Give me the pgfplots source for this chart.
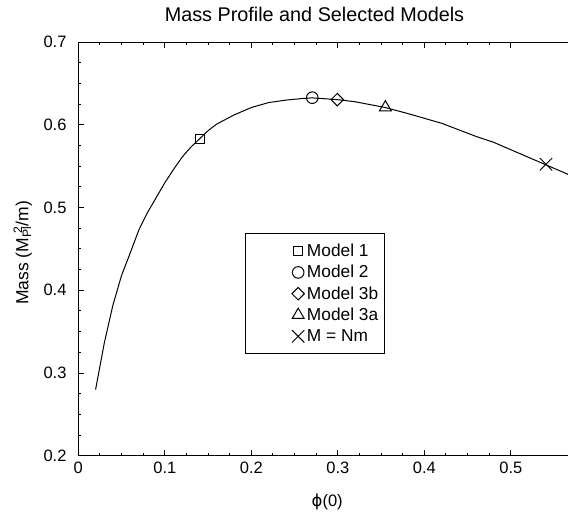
\documentclass[border=0pt]{standalone}
\usepackage{fontspec}
\setmainfont{Liberation Sans}
\newfontfamily\dejavu{DejaVu Sans}
\usepackage{pgfplots}
\pgfplotsset{compat=1.18}
\begin{document}
\begin{tikzpicture}
\useasboundingbox (0,0) rectangle (568pt,512pt);
\node[anchor=base, font=\fontsize{19.8}{24}\selectfont] at (314.5pt,490.3pt) {Mass Profile and Selected Models};
\begin{axis}[
  at={(78.3pt,56.3pt)}, anchor=south west,
  scale only axis, width=497.8pt, height=413.5pt,
  xmin=0, xmax=0.5755, ymin=0.2, ymax=0.7,
  xtick={0,0.1,0.2,0.3,0.4,0.5}, ytick={0.2,0.3,0.4,0.5,0.6,0.7},
  minor tick num=3,
  tick align=inside,
  major tick length=6pt, minor tick length=3pt,
  axis line style={line width=1.2pt},
  every tick/.style={black, line width=1pt},
  /pgf/number format/assume math mode=true,
  /pgf/number format/.cd, fixed, precision=1, /pgfplots/.cd,
  tick label style={font=\fontsize{16.5}{20}\selectfont},
  xticklabel style={yshift=-3.1pt},
  yticklabel style={xshift=-8.3pt},
  every axis x label/.style={at={(axis description cs:0.5,-0.124)}, anchor=base, font=\fontsize{16.5}{20}\selectfont},
  every axis y label/.style={at={(axis description cs:-0.1004,0.4903)}, anchor=base, rotate=90, font=\fontsize{17.5}{21}\selectfont},
  xlabel={{\dejavu ϕ}(0)},
  ylabel={Mass (M\textsubscript{Pl}\llap{\textsuperscript{2}}/m)},
  legend cell align=left,
  legend style={at={(axis cs:0.1927,0.4693)}, anchor=north west, draw=black, line width=1pt,
    inner xsep=6pt, inner ysep=7pt, row sep=0pt, column sep=0pt,
    font=\fontsize{17.3}{21}\selectfont,
    nodes={inner sep=0pt, text height=16.05pt, text depth=5.25pt, anchor=base west}},
  legend image code/.code={\path[draw=none, fill=none] (0pt,0pt) -- (55.5pt,0pt); \draw[#1] plot coordinates {(46.7pt,5.4pt)};},
]
\addplot[black, line width=1pt, mark=none, forget plot] coordinates {
(0.02,0.280) (0.03,0.336) (0.04,0.382) (0.05,0.418) (0.06,0.445) (0.07,0.473)
(0.08,0.494) (0.09,0.512) (0.10,0.530) (0.11,0.546) (0.12,0.561) (0.13,0.573)
(0.14,0.583) (0.15,0.593) (0.16,0.601) (0.18,0.612) (0.20,0.621) (0.22,0.627)
(0.24,0.630) (0.26,0.632) (0.27,0.6327) (0.28,0.632) (0.30,0.6305) (0.32,0.628)
(0.34,0.624) (0.355,0.621) (0.38,0.614) (0.40,0.608) (0.42,0.602) (0.44,0.594)
(0.46,0.586) (0.48,0.579) (0.50,0.570) (0.52,0.561) (0.54,0.552) (0.56,0.543)
(0.58,0.534)};
\addplot[only marks, mark=square, mark size=4.5pt, mark options={black, line width=1pt}] coordinates {(0.141,0.5835)};
\addlegendentry{Model 1}
\addplot[only marks, mark=o, mark size=5.8pt, mark options={black, line width=1pt}] coordinates {(0.2705,0.6329)};
\addlegendentry{Model 2}
\addplot[only marks, mark=square, mark size=4.4pt, mark options={black, line width=1pt, rotate=45}] coordinates {(0.2994,0.6305)};
\addlegendentry{Model 3b}
\addplot[only marks, mark=triangle, mark size=6.9pt, mark options={black, line width=1pt}] coordinates {(0.355,0.621)};
\addlegendentry{Model 3a}
\addplot[only marks, mark=x, mark size=8.7pt, mark options={black, line width=1pt}] coordinates {(0.5407,0.5524)};
\addlegendentry{M = Nm}
\end{axis}
\end{tikzpicture}
\end{document}
